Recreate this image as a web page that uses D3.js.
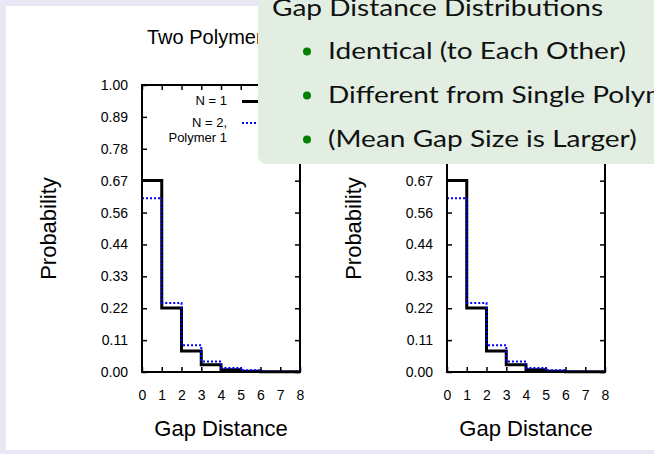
<!DOCTYPE html>
<html>
<head>
<meta charset="utf-8">
<script src="https://cdn.jsdelivr.net/npm/d3@7"></script>
<style>
  html, body { margin: 0; padding: 0; background: #e8e8f4; }
  svg { display: block; }
</style>
</head>
<body>
<svg id="slide" width="654" height="454"></svg>
<script>
// Gap distance bins (left edges) and axis ticks
const binStarts = [0, 1, 2, 3, 4, 5, 6, 7];
const xTickValues = [0, 1, 2, 3, 4, 5, 6, 7, 8];
const yTickLabels = ["0.00", "0.11", "0.22", "0.33", "0.44", "0.56", "0.67", "0.78", "0.89", "1.00"];

// Probability per gap distance
const singlePolymer = [0.667, 0.223, 0.073, 0.025, 0.008, 0.003, 0.001, 0.0005];
const twoPolymersFirst = [0.605, 0.240, 0.093, 0.037, 0.014, 0.006, 0.002, 0.001];
const twoPolymersSecond = [0.605, 0.240, 0.093, 0.037, 0.014, 0.006, 0.002, 0.001];

// Panel descriptions
const panelTitles = ["Two Polymers, Polymer 1", "Two Polymers, Polymer 2"];
const legendSingle = "N = 1";
const legendTwo = [["N = 2,", "Polymer 1"], ["N = 2,", "Polymer 2"]];
const panelSeries = [twoPolymersFirst, twoPolymersSecond];

// Overlay block text
const blockTitle = "Gap Distance Distributions";
const blockItems = ["Identical (to Each Other)", "Different from Single Polymer", "(Mean Gap Size is Larger)"];

const svg = d3.select("#slide");
svg.append("rect").attr("x", 6).attr("y", 6).attr("width", 648).attr("height", 444).attr("fill", "#ffffff");

const chartFont = "'Liberation Sans', Arial, Helvetica, sans-serif";
const panelLefts = [142, 447];
const plotW = 158, plotTop = 85, plotBottom = 372;

panelLefts.forEach((left, i) => {
  const x = d3.scaleLinear().domain([0, 8]).range([left, left + plotW]);
  const y = d3.scaleLinear().domain([0, 1]).range([plotBottom, plotTop]);
  const yTicks = yTickLabels.map(d => Math.round(+d * 9) / 9);
  const fmt = (d) => yTickLabels[Math.round(d * 9)];
  const g = svg.append("g").attr("font-family", chartFont);

  // axes with inward ticks
  const styleAxis = (sel) => {
    sel.select(".domain").remove();
    sel.selectAll(".tick line").attr("stroke", "#000").attr("stroke-width", 1.5);
    sel.selectAll(".tick text").attr("fill", "#000").attr("font-size", 14).attr("font-family", chartFont);
  };
  g.append("g").attr("transform", `translate(${left},0)`)
    .call(d3.axisLeft(y).tickValues(yTicks).tickFormat(fmt).tickSize(-5).tickPadding(14))
    .call(styleAxis);
  g.append("g").attr("transform", `translate(${left + plotW},0)`)
    .call(d3.axisRight(y).tickValues(yTicks).tickFormat("").tickSize(-5))
    .call(styleAxis);
  g.append("g").attr("transform", `translate(0,${plotBottom})`)
    .call(d3.axisBottom(x).tickValues(xTickValues).tickFormat(d3.format("d")).tickSize(-5).tickPadding(18))
    .call(styleAxis);
  g.append("g").attr("transform", `translate(0,${plotTop})`)
    .call(d3.axisTop(x).tickValues(xTickValues).tickFormat("").tickSize(-5))
    .call(styleAxis);

  // step outlines of the distributions
  const stepPath = (vals) => {
    const p = d3.path();
    vals.forEach((v, k) => {
      if (k === 0) p.moveTo(x(binStarts[k]), y(v));
      else p.lineTo(x(binStarts[k]), y(v));
      p.lineTo(x(binStarts[k] + 1), y(v));
    });
    return p.toString();
  };
  g.append("path").attr("d", stepPath(singlePolymer))
    .attr("fill", "none").attr("stroke", "#000").attr("stroke-width", 3);
  g.append("path").attr("d", stepPath(panelSeries[i]))
    .attr("fill", "none").attr("stroke", "#0000ff").attr("stroke-width", 2)
    .attr("stroke-dasharray", "2,2");

  // frame
  g.append("rect").attr("x", left).attr("y", plotTop).attr("width", plotW).attr("height", plotBottom - plotTop)
    .attr("fill", "none").attr("stroke", "#000").attr("stroke-width", 2);

  // legend
  const lx = left + 85;
  g.append("text").attr("x", lx).attr("y", 105).attr("text-anchor", "end").attr("font-size", 13).text(legendSingle);
  g.append("line").attr("x1", lx + 15).attr("x2", lx + 55).attr("y1", 101.5).attr("y2", 101.5)
    .attr("stroke", "#000").attr("stroke-width", 3);
  legendTwo[i].forEach((t, k) => {
    g.append("text").attr("x", lx).attr("y", 127 + k * 14.5).attr("text-anchor", "end").attr("font-size", 13).text(t);
  });
  g.append("line").attr("x1", lx + 15).attr("x2", lx + 55).attr("y1", 123).attr("y2", 123)
    .attr("stroke", "#0000ff").attr("stroke-width", 2).attr("stroke-dasharray", "2,2");

  // titles
  g.append("text").attr("x", left + 5).attr("y", 44).attr("font-size", 20).text(panelTitles[i]);
  g.append("text").attr("x", left + plotW / 2).attr("y", 436).attr("text-anchor", "middle").attr("font-size", 22).text("Gap Distance");
  g.append("text").attr("transform", `translate(${left - 86},${(plotTop + plotBottom) / 2}) rotate(-90)`)
    .attr("text-anchor", "middle").attr("font-size", 22).text("Probability");
});

// overlay block (sans text set slightly expanded)
const blockFont = "Lato, 'Noto Sans', sans-serif";
const widen = 1.22;
const block = svg.append("g").attr("font-family", blockFont);
block.append("rect").attr("x", 258).attr("y", -20).attr("width", 420).attr("height", 184).attr("rx", 8)
  .attr("fill", "#e3eee3");
block.append("text").attr("transform", `translate(272,16) scale(${widen},1)`)
  .attr("font-size", 23).attr("fill", "#111").text(blockTitle);
blockItems.forEach((t, k) => {
  const by = 59 + k * 44;
  block.append("circle").attr("cx", 307).attr("cy", by - 7.5).attr("r", 4).attr("fill", "#008000");
  block.append("text").attr("transform", `translate(328,${by}) scale(${widen},1)`)
    .attr("font-size", 23).attr("fill", "#111").text(t);
});
</script>
</body>
</html>
